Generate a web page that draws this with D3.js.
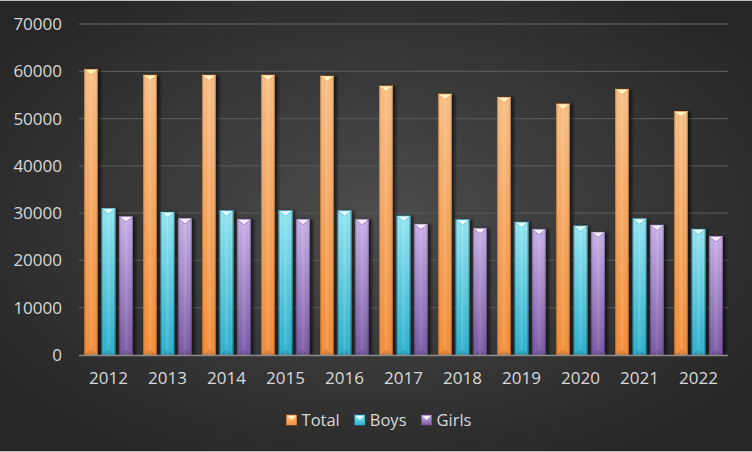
<!DOCTYPE html>
<html>
<head>
<meta charset="utf-8">
<script src="https://cdn.jsdelivr.net/npm/d3@7"></script>
<style>
  html, body { margin: 0; padding: 0; background: #c8c8c8; }
  svg { display: block; }
  text { font-family: "Open Sans", sans-serif; fill: #d9d9d9; }
</style>
</head>
<body>
<svg width="752" height="452"></svg>
<script>
// data
const years = ["2012", "2013", "2014", "2015", "2016", "2017", "2018", "2019", "2020", "2021", "2022"];
const total = [60400, 59200, 59200, 59200, 59000, 56900, 55200, 54500, 53100, 56200, 51500];
const boys  = [31000, 30200, 30500, 30500, 30500, 29400, 28600, 28100, 27300, 28800, 26600];
const girls = [29300, 28900, 28700, 28700, 28700, 27700, 26800, 26600, 26000, 27500, 25100];
const seriesNames = ["Total", "Boys", "Girls"];
const yTicks = [0, 10000, 20000, 30000, 40000, 50000, 60000, 70000];

const colors = {
  Total: { low: "#f7903a", high: "#fdc287", cap: "#fff4c4" },
  Boys:  { low: "#2cb2cf", high: "#95e9f6", cap: "#e8fdff" },
  Girls: { low: "#7a5aa6", high: "#cbb2ec", cap: "#f6efff" }
};

const width = 752, height = 452;
const margin = { top: 24, right: 24, bottom: 97, left: 79 };

const svg = d3.select("svg");
const defs = svg.append("defs");

// background
const bg = defs.append("radialGradient").attr("id", "bg")
  .attr("cx", "50%").attr("cy", "48%").attr("r", "62%");
bg.append("stop").attr("offset", "0%").attr("stop-color", "#4c4c4c");
bg.append("stop").attr("offset", "100%").attr("stop-color", "#262626");
svg.append("rect").attr("x", 0).attr("y", 1).attr("width", width).attr("height", height - 2)
  .attr("fill", "url(#bg)");

// gradients per series
seriesNames.forEach(s => {
  const g = defs.append("linearGradient").attr("id", "grad-" + s)
    .attr("x1", 0).attr("y1", 0).attr("x2", 0).attr("y2", 1);
  g.append("stop").attr("offset", "0%").attr("stop-color", colors[s].high);
  g.append("stop").attr("offset", "100%").attr("stop-color", colors[s].low);
});
const side = defs.append("linearGradient").attr("id", "side")
  .attr("x1", 0).attr("y1", 0).attr("x2", 1).attr("y2", 0);
[[0, "#000", 0.35], [0.14, "#000", 0], [0.5, "#fff", 0.12], [0.86, "#000", 0], [1, "#000", 0.4]]
  .forEach(([o, c, a]) => side.append("stop").attr("offset", o).attr("stop-color", c).attr("stop-opacity", a));

const shadow = defs.append("filter").attr("id", "shadow")
  .attr("x", "-30%").attr("y", "-5%").attr("width", "180%").attr("height", "110%");
shadow.append("feDropShadow").attr("dx", 3).attr("dy", 0).attr("stdDeviation", 1.6)
  .attr("flood-color", "#000").attr("flood-opacity", 0.55);

const x = d3.scaleBand()
  .domain(years)
  .range([margin.left, width - margin.right]);

const x1 = d3.scaleBand()
  .domain(seriesNames)
  .range([5, x.bandwidth() - 5])
  .paddingInner(0.2);

const y = d3.scaleLinear()
  .domain([0, 70000])
  .range([height - margin.bottom, margin.top]);

// gridlines
svg.append("g")
  .selectAll("line")
  .data(yTicks.slice(1))
  .join("line")
  .attr("x1", margin.left).attr("x2", width - margin.right)
  .attr("y1", d => y(d)).attr("y2", d => y(d))
  .attr("stroke", "#565656").attr("stroke-width", 1.3);

// y axis labels
const yAxis = svg.append("g")
  .attr("transform", `translate(${margin.left - 17},0)`)
  .call(d3.axisLeft(y).tickValues(yTicks).tickFormat(d3.format("d")).tickSize(0).tickPadding(0));
yAxis.select(".domain").remove();
yAxis.selectAll("text")
  .attr("font-size", 17)
  .attr("font-family", "Open Sans, sans-serif")
  .attr("fill", "#d9d9d9");

const series = [
  { name: "Total", values: total },
  { name: "Boys", values: boys },
  { name: "Girls", values: girls }
];

const bars = [];
series.forEach(s => s.values.forEach((v, i) => bars.push({ name: s.name, year: years[i], value: v })));

const barG = svg.append("g").selectAll("g")
  .data(bars)
  .join("g")
  .attr("transform", d => `translate(${x(d.year) + x1(d.name)},0)`);

const bw = x1.bandwidth();

barG.append("rect")
  .attr("y", d => y(d.value))
  .attr("width", bw)
  .attr("height", d => y(0) - y(d.value))
  .attr("fill", d => `url(#grad-${d.name})`)
  .attr("filter", "url(#shadow)");

barG.append("rect")
  .attr("y", d => y(d.value))
  .attr("width", bw)
  .attr("height", d => y(0) - y(d.value))
  .attr("fill", "url(#side)");

// top bevel
barG.append("path")
  .attr("d", d => `M0,${y(d.value)}H${bw}L${bw / 2},${y(d.value) + 5.5}Z`)
  .attr("fill", d => colors[d.name].cap)
  .attr("stroke", d => colors[d.name].low)
  .attr("stroke-width", 0.6);

// bottom bevel
barG.append("path")
  .attr("d", `M0,${y(0)}H${bw}L${bw / 2},${y(0) - 5}Z`)
  .attr("fill", "#000").attr("fill-opacity", 0.12);

// baseline
svg.append("line")
  .attr("x1", margin.left).attr("x2", width - margin.right)
  .attr("y1", y(0) + 0.5).attr("y2", y(0) + 0.5)
  .attr("stroke", "#8c8c8c").attr("stroke-width", 1.5);

// x axis labels
const xAxis = svg.append("g")
  .attr("transform", `translate(0,${y(0)})`)
  .call(d3.axisBottom(x).tickSize(0).tickPadding(17));
xAxis.select(".domain").remove();
xAxis.selectAll("text")
  .attr("font-size", 17)
  .attr("font-family", "Open Sans, sans-serif")
  .attr("fill", "#d9d9d9");

// legend
const legend = svg.append("g");
let lx = 0;
seriesNames.forEach(s => {
  const item = legend.append("g").attr("transform", `translate(${lx},0)`);
  item.append("rect").attr("x", 0).attr("y", -5).attr("width", 10).attr("height", 10)
    .attr("fill", `url(#grad-${s})`).attr("stroke", colors[s].low).attr("stroke-width", 0.5);
  item.append("path").attr("d", "M1,-4H9L5,0Z").attr("fill", colors[s].cap);
  const t = item.append("text").attr("x", 15).attr("y", 6).attr("font-size", 16.5).text(s);
  lx += 15 + t.node().getComputedTextLength() + 15;
});
lx -= 15;
legend.attr("transform", `translate(${379 - lx / 2},420)`);

// thin light frame lines top and bottom
svg.append("rect").attr("x", 0).attr("y", 0).attr("width", width).attr("height", 1).attr("fill", "#bdbdbd");
svg.append("rect").attr("x", 0).attr("y", height - 1).attr("width", width).attr("height", 1).attr("fill", "#bdbdbd");
</script>
</body>
</html>
